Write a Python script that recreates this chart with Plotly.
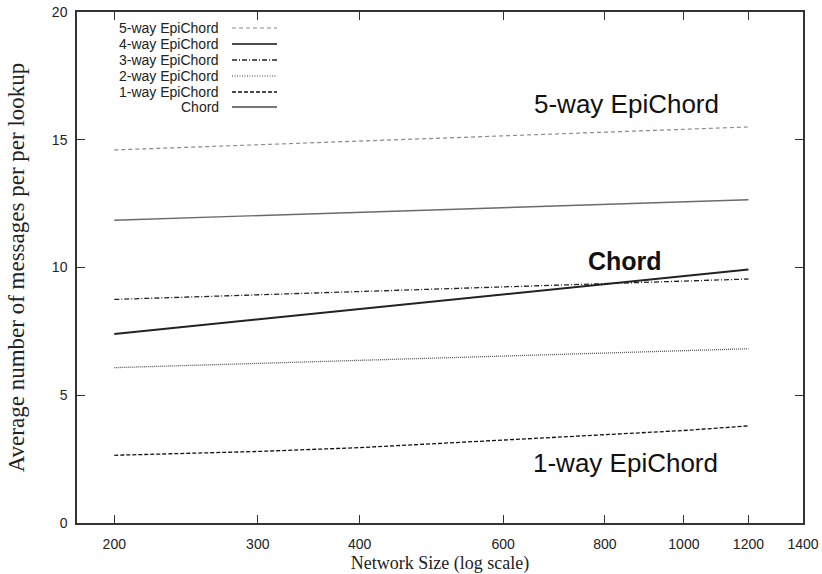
import plotly.graph_objects as go
import math

network_sizes = [200, 300, 400, 600, 800, 1000, 1200]
series_names = ["5-way EpiChord", "4-way EpiChord", "3-way EpiChord", "2-way EpiChord", "1-way EpiChord", "Chord"]
five_way = [14.6, 14.8, 14.95, 15.15, 15.28, 15.4, 15.5]
four_way = [11.85, 12.03, 12.16, 12.34, 12.46, 12.56, 12.65]
three_way = [8.75, 8.93, 9.06, 9.24, 9.37, 9.47, 9.55]
two_way = [6.08, 6.25, 6.37, 6.53, 6.65, 6.74, 6.82]
one_way = [2.65, 2.8, 2.95, 3.25, 3.45, 3.62, 3.8]
chord = [7.4, 7.97, 8.38, 8.94, 9.35, 9.66, 9.92]
x_ticks = [200, 300, 400, 600, 800, 1000, 1200, 1400]
y_ticks = [0, 5, 10, 15, 20]

styles = [
    dict(color="#8a8a8a", width=1.2, dash="4px,3px"),
    dict(color="#6a6a6a", width=1.4, dash="solid"),
    dict(color="#222222", width=1.3, dash="5px,2px,1px,2px"),
    dict(color="#555555", width=1.3, dash="1px,1px"),
    dict(color="#111111", width=1.3, dash="4px,2px"),
    dict(color="#222222", width=2.0, dash="solid"),
]
values = [five_way, four_way, three_way, two_way, one_way, chord]

fig = go.Figure()
for name, vals, st in zip(series_names, values, styles):
    fig.add_trace(go.Scatter(x=network_sizes, y=vals, mode="lines", name=name,
                             line=st, showlegend=False))

W, H = 822, 574
ml, mr, mt, mb = 77, 19, 12, 51
pw, ph = W - ml - mr, H - mt - mb

def px_to_paper(x, y):
    return (x - ml) / pw, 1 - (y - mt) / ph

# manual legend (text right-aligned, sample on the right)
legend_colors = ["#8a8a8a", "#111111", "#222222", "#444444", "#111111", "#777777"]
legend_widths = [1.2, 1.3, 1.3, 1.2, 1.3, 2.2]
legend_dash = ["4px,3px", "solid", "5px,2px,1px,2px", "1px,1.5px", "4px,2px", "solid"]
rows_y = [28, 44, 60, 76, 92, 107]
for name, dsh, col, lw, ry in zip(series_names, legend_dash, legend_colors, legend_widths, rows_y):
    tx, ty = px_to_paper(221, ry)
    fig.add_annotation(x=tx, y=ty, xref="paper", yref="paper", text=name,
                       showarrow=False, xanchor="right", yanchor="middle",
                       font=dict(family="Liberation Sans, Arial", size=14, color="#222"))
    x0, y0 = px_to_paper(232, ry)
    x1, _ = px_to_paper(277, ry)
    fig.add_shape(type="line", xref="paper", yref="paper", x0=x0, x1=x1, y0=y0, y1=y0,
                  line=dict(color=col, width=lw, dash=dsh))

labels = [("5-way EpiChord", 626, 104, False, 26), ("Chord", 625, 261, True, 25),
          ("1-way EpiChord", 625, 463, False, 26)]
for txt, lx, ly, bold, fs in labels:
    ax, ay = px_to_paper(lx, ly)
    fig.add_annotation(x=ax, y=ay, xref="paper", yref="paper",
                       text=f"<b>{txt}</b>" if bold else txt, showarrow=False,
                       xanchor="center", yanchor="middle",
                       font=dict(family="Liberation Sans, Arial", size=fs, color="#111"))

axis_common = dict(showline=True, linecolor="#333", linewidth=1.5, mirror="allticks",
                   ticks="inside", ticklen=8, tickwidth=1.2, tickcolor="#333",
                   showgrid=False, zeroline=False, automargin=False,
                   tickfont=dict(family="Liberation Sans, Arial", size=14, color="#222"))

fig.update_xaxes(type="log", range=[math.log10(180), math.log10(1400)],
                 tickvals=x_ticks, ticktext=[str(v) for v in x_ticks],
                 ticklabelstandoff=7,
                 title=dict(text="Network Size (log scale)", standoff=9,
                            font=dict(family="Liberation Serif, Times New Roman", size=18, color="#222")),
                 **axis_common)
fig.update_yaxes(range=[0, 20], tickvals=y_ticks, ticklabelstandoff=5,
                 title=dict(text="Average number of messages per per lookup", standoff=21,
                            font=dict(family="Liberation Serif, Times New Roman", size=23, color="#222")),
                 **axis_common)

fig.update_layout(width=W, height=H, margin=dict(l=ml, r=mr, t=mt, b=mb, autoexpand=False),
                  plot_bgcolor="white", paper_bgcolor="white", showlegend=False)

fig.write_html("out.html", config={"displayModeBar": False},
               post_script="document.body.style.margin='0';document.body.style.overflow='hidden';")
